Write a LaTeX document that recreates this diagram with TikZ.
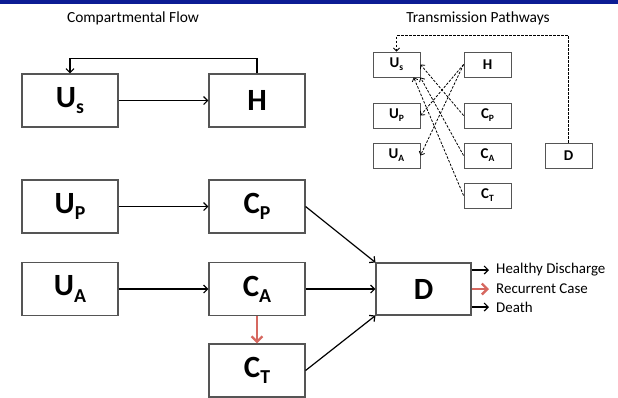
\documentclass[tikz,border=0pt]{standalone}
\usepackage{fontspec}
\setmainfont{Carlito}
\usepackage{graphicx}
\usetikzlibrary{arrows.meta}
\definecolor{barblue}{RGB}{12,28,148}
\definecolor{boxgray}{RGB}{85,85,85}
\definecolor{recur}{RGB}{214,104,96}
\newcommand{\cmp}[2]{#1\raisebox{-0.2em}{\scalebox{0.64}{#2}}}
\begin{document}
\begin{tikzpicture}[x=1bp, y=-1bp,
    bigbox/.style={draw=boxgray, line width=1.1bp, minimum width=96bp, minimum height=53bp, inner sep=0pt, font=\bfseries\fontsize{31}{31}\selectfont},
    smallbox/.style={draw=boxgray, line width=0.9bp, minimum width=47bp, minimum height=25bp, inner sep=0pt, font=\bfseries\fontsize{15}{15}\selectfont},
    flow/.style={-{Straight Barb[length=4bp, width=8bp]}, line width=1.2bp},
    recurflow/.style={-{Straight Barb[length=5.5bp, width=11bp]}, line width=2.4bp, recur},
    dashflow/.style={-{Straight Barb[length=3bp, width=6bp]}, line width=0.8bp, dash pattern=on 2.5bp off 1.5bp},
    outlbl/.style={inner xsep=7bp, inner ysep=0pt, font=\fontsize{15}{15}\selectfont},
    title/.style={font=\fontsize{15.5}{15.5}\selectfont}]
    \useasboundingbox (0,0) rectangle (618,397) ;
    \fill [barblue] (0,0) rectangle (618,4) ;
    \node [title] (ttlflow) at (133,18) {Compartmental Flow} ;
    \node [title] (ttlpath) at (478,18) {Transmission Pathways} ;

    \node [bigbox] (Us) at (70,100.5) {\cmp{U}{s}} ;
    \node [bigbox] (H) at (257,100.5) {H} ;
    \node [bigbox] (UP) at (70,206.5) {\cmp{U}{P}} ;
    \node [bigbox] (CP) at (257,206.5) {\cmp{C}{P}} ;
    \node [bigbox] (UA) at (70,289) {\cmp{U}{A}} ;
    \node [bigbox] (CA) at (257,289) {\cmp{C}{A}} ;
    \node [bigbox] (CT) at (257,370.5) {\cmp{C}{T}} ;
    \node [bigbox, minimum width=95bp, minimum height=52bp] (D) at (423.5,289) {D} ;
    \draw [flow] (Us) -- (H) ;
    \draw [flow] (H.north) -- ++(0,-15) -| (Us.north) ;
    \draw [flow] (UP) -- (CP) ;
    \draw [flow] (UA) -- (CA) ;
    \draw [recurflow] (CA) -- (CT) ;
    \draw [flow] (CP.east) -- (D.north west) ;
    \draw [flow] (CA) -- (D) ;
    \draw [flow] (CT.east) -- (D.south west) ;
    \node [outlbl, anchor=west] (hd) at (489,270) {Healthy Discharge} ;
    \node [outlbl, anchor=west] (rc) at (489,289) {Recurrent Case} ;
    \node [outlbl, anchor=west] (de) at (489,307) {Death} ;
    \draw [flow] (D.east |- hd) -- (hd) ;
    \draw [recurflow] (D.east |- rc) -- (rc) ;
    \draw [flow] (D.east |- de) -- (de) ;

    \node [smallbox] (sUs) at (396.5,64.5) {\cmp{U}{s}} ;
    \node [smallbox] (sH) at (487.5,64.5) {H} ;
    \node [smallbox] (sUP) at (396.5,115.5) {\cmp{U}{P}} ;
    \node [smallbox] (sCP) at (487.5,115.5) {\cmp{C}{P}} ;
    \node [smallbox] (sUA) at (396.5,155.5) {\cmp{U}{A}} ;
    \node [smallbox] (sCA) at (487.5,155.5) {\cmp{C}{A}} ;
    \node [smallbox] (sD) at (568.5,155.5) {D} ;
    \node [smallbox] (sCT) at (487.5,195.5) {\cmp{C}{T}} ;
    \draw [dashflow] (sD.north) -- ++(0,-107) -| (sUs.north) ;
    \draw [dashflow] (sH.west) -- (sUP.east) ;
    \draw [dashflow] (sH.west) -- (sUA.east) ;
    \draw [dashflow] (sCP.west) -- (sUs.east) ;
    \draw [dashflow] (sCA.west) -- (sUs.south east) ;
    \draw [dashflow] (sCT.west) -- (sUs.-37) ;
\end{tikzpicture}
\end{document}
